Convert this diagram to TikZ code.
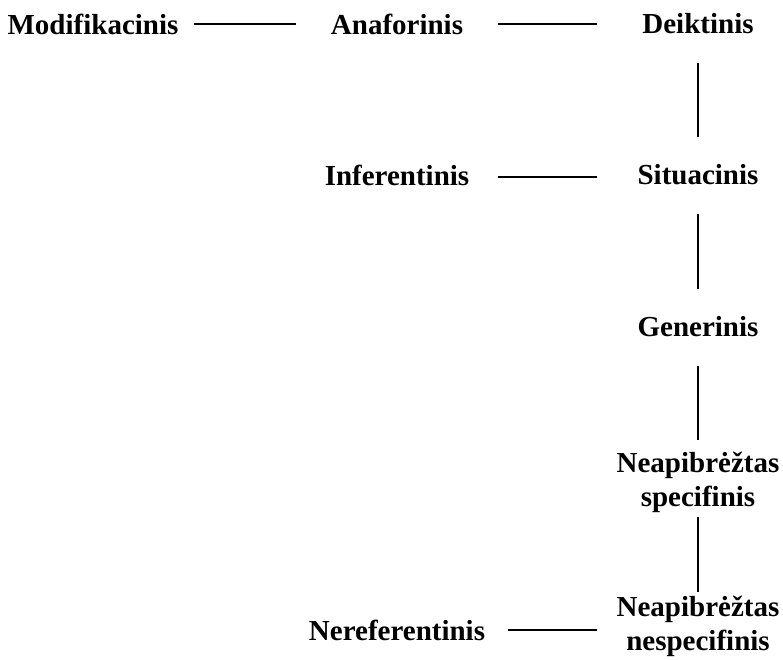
\documentclass[tikz,border=0pt]{standalone}
\usepackage{fontspec}
\setmainfont{Liberation Serif}
\begin{document}
\begin{tikzpicture}[x=1pt,y=1pt,
  term/.style={font=\bfseries\fontsize{29}{34}\selectfont, align=center,
    inner sep=0pt, minimum width=202pt, minimum height=76pt},
  link/.style={draw=black, line width=1.2pt}]
\useasboundingbox (0,0) rectangle (783,-660);
% terms
\node[term] (mod) at (93,-24) {Modifikacinis};
\node[term] (ana) at (397,-24) {Anaforinis};
\node[term] (dei) at (698,-24) {Deiktinis};
\node[term] (inf) at (397,-175) {Inferentinis};
\node[term] (sit) at (698,-175) {Situacinis};
\node[term] (gen) at (698,-327) {Generinis};
\node[term] (spe) at (698,-482) {Neapibrėžtas\\specifinis};
\node[term] (nsp) at (698,-626) {Neapibrėžtas\\nespecifinis};
\node[term] (ner) at (397,-630) {Nereferentinis};
% horizontal links
\draw[link] (mod.east) -- (ana.west);
\draw[link] (ana.east) -- (dei.west);
\draw[link] ([yshift=-2pt]inf.east) -- ([yshift=-2pt]sit.west);
\draw[link, shorten <=10pt] (ner.east) -- (ner.east -| nsp.west);
% vertical links
\draw[link, shorten <=1pt] (dei.south) -- (sit.north);
\draw[link, shorten <=1pt] (sit.south) -- (gen.north);
\draw[link, shorten <=1pt, shorten >=4pt] (gen.south) -- (spe.north);
\draw[link, shorten <=-3pt, shorten >=-4pt] (spe.south) -- (nsp.north);
\end{tikzpicture}
\end{document}
